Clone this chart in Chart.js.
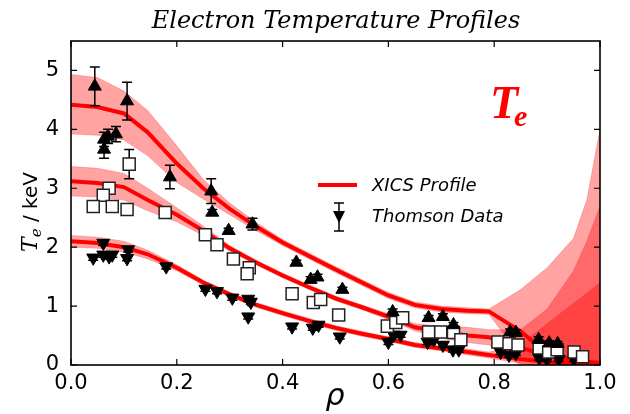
<!DOCTYPE html>
<html>
<head>
<meta charset="utf-8">
<script src="https://cdn.jsdelivr.net/npm/chart.js@4/dist/chart.umd.min.js"></script>
<style>
  body { margin: 0; background: #fff; }
  #wrap { width: 630px; height: 414px; }
</style>
</head>
<body>
<div id="wrap"><canvas id="myChart" width="630" height="414"></canvas></div>
<script>
// radial grid for the XICS profiles
const rhoGrid = [0, 0.05, 0.1, 0.145, 0.2, 0.25, 0.3, 0.35, 0.4, 0.45, 0.5, 0.55, 0.6, 0.65, 0.7, 0.75, 0.79, 0.85, 0.9, 0.95, 0.975, 1.0];

// high temperature case
const xicsHigh      = [4.42, 4.38, 4.27, 3.95, 3.42, 3.0, 2.65, 2.35, 2.08, 1.85, 1.62, 1.4, 1.18, 1.02, 0.95, 0.92, 0.91, 0.57, 0.2, 0.08, 0.05, 0.03];
const xicsHighUpper = [4.93, 4.88, 4.65, 4.32, 3.72, 3.15, 2.75, 2.42, 2.13, 1.9, 1.67, 1.45, 1.23, 1.07, 1.0, 0.97, 0.95, 1.28, 1.65, 2.15, 2.8, 4.0];
const xicsHighLower = [3.92, 3.9, 3.82, 3.55, 3.1, 2.82, 2.55, 2.28, 2.03, 1.8, 1.57, 1.35, 1.13, 0.97, 0.9, 0.87, 0.86, 0.15, 0, 0, 0, 0];

// medium temperature case
const xicsMid      = [3.12, 3.09, 3.02, 2.8, 2.55, 2.28, 1.98, 1.74, 1.52, 1.32, 1.13, 0.98, 0.82, 0.64, 0.56, 0.5, 0.47, 0.3, 0.15, 0.08, 0.05, 0.04];
const xicsMidUpper = [3.37, 3.34, 3.25, 3.0, 2.67, 2.36, 2.03, 1.78, 1.56, 1.36, 1.17, 1.02, 0.87, 0.7, 0.66, 0.64, 0.6, 0.6, 0.95, 1.6, 2.1, 2.7];
const xicsMidLower = [2.87, 2.85, 2.8, 2.62, 2.43, 2.2, 1.93, 1.7, 1.48, 1.28, 1.09, 0.94, 0.77, 0.58, 0.46, 0.38, 0.34, 0, 0, 0, 0, 0];

// low temperature case
const xicsLow      = [2.1, 2.07, 2.0, 1.88, 1.65, 1.4, 1.2, 1.02, 0.88, 0.75, 0.63, 0.53, 0.44, 0.34, 0.28, 0.22, 0.17, 0.1, 0.05, 0.03, 0.02, 0.02];
const xicsLowUpper = [2.2, 2.17, 2.1, 1.95, 1.7, 1.44, 1.24, 1.06, 0.92, 0.79, 0.67, 0.57, 0.48, 0.38, 0.32, 0.27, 0.22, 0.35, 0.7, 1.05, 1.22, 1.4];
const xicsLowLower = [2.0, 1.98, 1.92, 1.8, 1.6, 1.36, 1.16, 0.98, 0.84, 0.71, 0.59, 0.49, 0.4, 0.3, 0.24, 0.17, 0.12, 0.03, 0, 0, 0, 0];

// Thomson points, high case (up triangles)
const tsHighRho = [0.045, 0.106, 0.0625, 0.07, 0.085, 0.0625, 0.187, 0.265, 0.267, 0.298, 0.343, 0.426, 0.453, 0.466, 0.513, 0.608, 0.676, 0.703, 0.723, 0.83, 0.841, 0.884, 0.904, 0.92];
const tsHighTe  = [4.73, 4.48, 3.83, 3.88, 3.92, 3.66, 3.19, 2.95, 2.59, 2.28, 2.39, 1.74, 1.45, 1.49, 1.28, 0.9, 0.8, 0.82, 0.68, 0.56, 0.55, 0.43, 0.37, 0.36];
const tsHighErr = [0.33, 0.32, 0.12, 0.12, 0.13, 0.15, 0.2, 0.21, 0.05, 0.04, 0.1, 0.04, 0.05, 0.05, 0.04, 0.05, 0.04, 0.05, 0.04, 0.05, 0.05, 0.05, 0.04, 0.04];

// Thomson points, medium case (open squares)
const tsMidRho = [0.11, 0.072, 0.061, 0.042, 0.078, 0.106, 0.178, 0.254, 0.276, 0.307, 0.337, 0.333, 0.418, 0.458, 0.472, 0.506, 0.598, 0.614, 0.627, 0.676, 0.699, 0.723, 0.737, 0.807, 0.828, 0.845, 0.885, 0.903, 0.919, 0.951, 0.967];
const tsMidTe  = [3.41, 3.0, 2.88, 2.69, 2.69, 2.64, 2.59, 2.21, 2.04, 1.8, 1.65, 1.55, 1.21, 1.06, 1.11, 0.85, 0.66, 0.72, 0.8, 0.56, 0.56, 0.55, 0.43, 0.39, 0.36, 0.34, 0.29, 0.22, 0.26, 0.22, 0.14];
const tsMidErr = [0.25, 0.05, 0.04, 0.04, 0.04, 0.04, 0.08, 0.05, 0.04, 0.04, 0.04, 0.04, 0.04, 0.04, 0.04, 0.04, 0.04, 0.04, 0.04, 0.04, 0.04, 0.04, 0.04, 0.04, 0.04, 0.04, 0.04, 0.04, 0.04, 0.04, 0.04];

// Thomson points, low case (down triangles)
const tsLowRho = [0.042, 0.061, 0.061, 0.072, 0.078, 0.108, 0.106, 0.18, 0.254, 0.276, 0.305, 0.335, 0.34, 0.335, 0.418, 0.457, 0.468, 0.508, 0.6, 0.61, 0.623, 0.674, 0.686, 0.703, 0.722, 0.733, 0.812, 0.828, 0.841, 0.885, 0.9, 0.922, 0.951];
const tsLowTe  = [1.82, 2.07, 1.87, 1.84, 1.87, 1.96, 1.81, 1.67, 1.29, 1.25, 1.14, 1.12, 1.07, 0.82, 0.65, 0.63, 0.68, 0.48, 0.39, 0.51, 0.51, 0.39, 0.43, 0.34, 0.26, 0.26, 0.22, 0.17, 0.2, 0.12, 0.1, 0.1, 0.1];
const tsLowErr = [0.04, 0.04, 0.04, 0.04, 0.04, 0.04, 0.04, 0.04, 0.04, 0.04, 0.04, 0.04, 0.04, 0.04, 0.04, 0.04, 0.04, 0.04, 0.04, 0.04, 0.04, 0.04, 0.04, 0.04, 0.04, 0.04, 0.04, 0.04, 0.04, 0.04, 0.04, 0.04, 0.04];

const xTicks = [0, 0.2, 0.4, 0.6, 0.8, 1.0];
const yTicks = [0, 1, 2, 3, 4, 5];

const bandFill = 'rgba(255, 0, 0, 0.36)';
const bandEdge = 'rgba(255, 0, 0, 0.22)';

function pts(xs, ys) {
    return xs.map(function(x, i) { return { x: x, y: ys[i] }; });
}

function band(upper, lower) {
    return [
        { data: pts(rhoGrid, upper), showLine: true, fill: '+1', backgroundColor: bandFill,
          borderColor: bandEdge, borderWidth: 1, pointRadius: 0, order: 3 },
        { data: pts(rhoGrid, lower), showLine: true, fill: false,
          borderColor: bandEdge, borderWidth: 1, pointRadius: 0, order: 3 }
    ];
}

function profile(values) {
    return { data: pts(rhoGrid, values), showLine: true, fill: false, borderColor: '#ff0000',
             borderWidth: 4, pointRadius: 0, order: 2 };
}

function thomson(rho, te, err, style) {
    const ds = { data: pts(rho, te), errors: err, showLine: false, order: 1,
                 pointStyle: style.shape, rotation: style.rotation || 0, pointRadius: style.radius,
                 backgroundColor: style.fill, borderColor: style.edge, borderWidth: style.width };
    return ds;
}

// error bars are drawn just before the markers of each Thomson dataset
const errorBars = {
    id: 'errorBars',
    beforeDatasetDraw: function(chart, args) {
        const ds = chart.data.datasets[args.index];
        if (!ds.errors) return;
        const ctx = chart.ctx, xs = chart.scales.x, ys = chart.scales.y;
        ctx.save();
        ctx.strokeStyle = '#000';
        ctx.lineWidth = 1.5;
        ds.data.forEach(function(p, i) {
            const px = xs.getPixelForValue(p.x);
            const top = ys.getPixelForValue(p.y + ds.errors[i]);
            const bot = ys.getPixelForValue(p.y - ds.errors[i]);
            ctx.beginPath();
            ctx.moveTo(px, top); ctx.lineTo(px, bot);
            ctx.moveTo(px - 5, top); ctx.lineTo(px + 5, top);
            ctx.moveTo(px - 5, bot); ctx.lineTo(px + 5, bot);
            ctx.stroke();
        });
        ctx.restore();
    }
};

// frame, inward ticks, titles, legend and the big T_e tag
const decorations = {
    id: 'decorations',
    afterDraw: function(chart) {
        const ctx = chart.ctx, a = chart.chartArea, xs = chart.scales.x, ys = chart.scales.y;
        ctx.save();
        ctx.strokeStyle = '#000';
        ctx.lineWidth = 1.2;
        ctx.beginPath();
        xTicks.forEach(function(v) {
            const px = xs.getPixelForValue(v);
            ctx.moveTo(px, a.bottom); ctx.lineTo(px, a.bottom - 6);
            ctx.moveTo(px, a.top); ctx.lineTo(px, a.top + 6);
        });
        yTicks.forEach(function(v) {
            const py = ys.getPixelForValue(v);
            ctx.moveTo(a.left, py); ctx.lineTo(a.left + 6, py);
            ctx.moveTo(a.right, py); ctx.lineTo(a.right - 6, py);
        });
        ctx.stroke();
        ctx.lineWidth = 1.6;
        ctx.strokeRect(a.left, a.top, a.right - a.left, a.bottom - a.top);

        // title
        ctx.fillStyle = '#000';
        ctx.textAlign = 'center';
        ctx.textBaseline = 'alphabetic';
        ctx.font = 'italic 24px "DejaVu Serif"';
        ctx.fillText('Electron Temperature Profiles', 336, 28);

        // x label
        ctx.font = 'italic 30px "DejaVu Sans"';
        ctx.fillText('\u03c1', 335, 405);

        // y label: T_e / keV
        ctx.save();
        ctx.translate(37, 212);
        ctx.rotate(-Math.PI / 2);
        ctx.textAlign = 'left';
        const fT = 'italic 22px "DejaVu Serif"', fe = 'italic 15px "DejaVu Serif"', fk = '20px "DejaVu Sans"';
        ctx.font = fT; const wT = ctx.measureText('T').width;
        ctx.font = fe; const we = ctx.measureText('e').width;
        ctx.font = fk; const wk = ctx.measureText(' / keV').width;
        let x0 = -(wT + we + wk) / 2;
        ctx.font = fT; ctx.fillText('T', x0, 0); x0 += wT;
        ctx.font = fe; ctx.fillText('e', x0, 4); x0 += we;
        ctx.font = fk; ctx.fillText(' / keV', x0, 0);
        ctx.restore();

        // big T_e tag
        ctx.fillStyle = '#ff0000';
        ctx.textAlign = 'left';
        ctx.font = 'bold italic 46px "Liberation Serif"';
        ctx.fillText('T', 490, 118);
        const wBig = ctx.measureText('T').width;
        ctx.font = 'bold italic 30px "Liberation Serif"';
        ctx.fillText('e', 490 + wBig - 4, 126);

        // legend
        ctx.strokeStyle = '#ff0000';
        ctx.lineWidth = 4;
        ctx.beginPath(); ctx.moveTo(318, 185); ctx.lineTo(357, 185); ctx.stroke();
        ctx.strokeStyle = '#000';
        ctx.lineWidth = 1.5;
        ctx.beginPath();
        ctx.moveTo(339, 203); ctx.lineTo(339, 231);
        ctx.moveTo(334, 203); ctx.lineTo(344, 203);
        ctx.moveTo(334, 231); ctx.lineTo(344, 231);
        ctx.stroke();
        ctx.fillStyle = '#000';
        ctx.beginPath();
        ctx.moveTo(333, 211); ctx.lineTo(345, 211); ctx.lineTo(339, 223); ctx.closePath();
        ctx.fill();
        ctx.font = 'italic 18px "DejaVu Sans"';
        ctx.textBaseline = 'middle';
        ctx.fillText('XICS Profile', 372, 186);
        ctx.fillText('Thomson Data', 372, 217);
        ctx.restore();
    }
};

const datasets = [].concat(
    band(xicsHighUpper, xicsHighLower),
    band(xicsMidUpper, xicsMidLower),
    band(xicsLowUpper, xicsLowLower),
    [profile(xicsHigh), profile(xicsMid), profile(xicsLow)],
    [
        thomson(tsHighRho, tsHighTe, tsHighErr, { shape: 'triangle', radius: 7.5, fill: '#000', edge: '#000', width: 1 }),
        thomson(tsMidRho, tsMidTe, tsMidErr, { shape: 'rect', radius: 8.5, fill: '#fff', edge: '#222', width: 1.5 }),
        thomson(tsLowRho, tsLowTe, tsLowErr, { shape: 'triangle', rotation: 180, radius: 7.5, fill: '#000', edge: '#000', width: 1 })
    ]
);

const ctx = document.getElementById('myChart');
new Chart(ctx, {
    type: 'scatter',
    data: { datasets: datasets },
    plugins: [errorBars, decorations],
    options: {
        responsive: false,
        animation: false,
        layout: { padding: { top: 41, right: 30, left: 0, bottom: 0 } },
        plugins: { legend: { display: false }, tooltip: { enabled: false }, title: { display: false } },
        scales: {
            x: {
                type: 'linear', min: 0, max: 1,
                grid: { display: false, drawTicks: false },
                border: { display: false },
                afterFit: function(s) { s.height = 49; },
                afterBuildTicks: function(s) { s.ticks = xTicks.map(function(v) { return { value: v }; }); },
                ticks: {
                    padding: 6, color: '#000',
                    font: { family: 'DejaVu Sans', size: 21 },
                    callback: function(v) { return Number(v).toFixed(1); }
                }
            },
            y: {
                type: 'linear', min: 0, max: 5.5,
                grid: { display: false, drawTicks: false },
                border: { display: false },
                afterFit: function(s) { s.width = 71; },
                afterBuildTicks: function(s) { s.ticks = yTicks.map(function(v) { return { value: v }; }); },
                ticks: {
                    padding: 12, color: '#000',
                    font: { family: 'DejaVu Sans', size: 21 },
                    callback: function(v) { return String(v); }
                }
            }
        }
    }
});
</script>
</body>
</html>
